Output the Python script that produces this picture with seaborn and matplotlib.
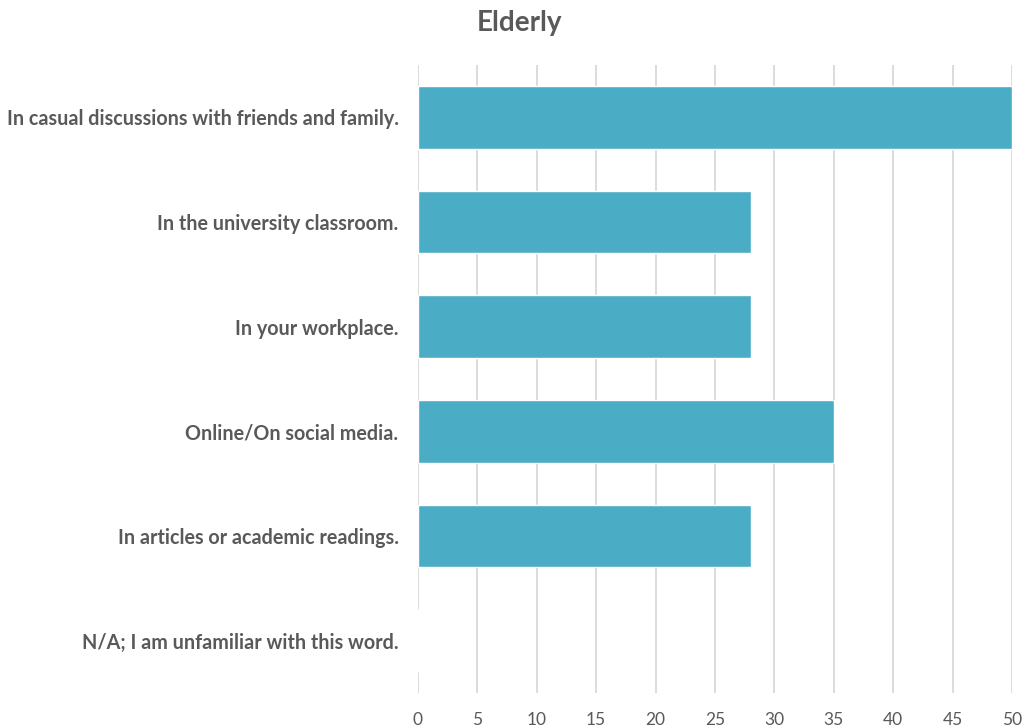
import matplotlib
matplotlib.use("Agg")
import matplotlib.pyplot as plt
import seaborn as sns
import pandas as pd

categories = [
    "In casual discussions with friends and family.",
    "In the university classroom.",
    "In your workplace.",
    "Online/On social media.",
    "In articles or academic readings.",
    "N/A; I am unfamiliar with this word.",
]
counts = [50, 28, 28, 35, 28, 0]
x_ticks = [0, 5, 10, 15, 20, 25, 30, 35, 40, 45, 50]

sns.set_theme(style="white")
plt.rcParams["font.family"] = ["Lato", "DejaVu Sans"]

text_color = "#595959"
bar_color = "#4BACC6"
grid_color = "#D9D9D9"

df = pd.DataFrame({"place": categories, "count": counts})

fig = plt.figure(figsize=(10.28, 7.27), dpi=100)
ax = fig.add_axes([0.4066, 0.0468, 0.5778, 0.8638])

sns.barplot(data=df, y="place", x="count", order=categories, color=bar_color,
            saturation=1, width=0.6, ax=ax, zorder=3)

ax.set_xlim(0, 50)
ax.set_ylim(5.5, -0.5)
ax.set_xticks(x_ticks)
ax.set_xticklabels([str(t) for t in x_ticks])
ax.xaxis.grid(True, color=grid_color, linewidth=1.3, zorder=0)
ax.set_axisbelow(True)
for s in ax.spines.values():
    s.set_visible(False)
ax.set_xlabel("")
ax.set_ylabel("")
ax.tick_params(axis="both", length=0)
ax.tick_params(axis="x", labelsize=12.5, labelcolor=text_color, pad=14)
ax.tick_params(axis="y", labelsize=14.2, labelcolor=text_color, pad=14)
for lbl in ax.get_yticklabels():
    lbl.set_fontweight("bold")

fig.text(0.505, 0.968, "Elderly", ha="center", va="center", fontsize=20,
         fontweight="bold", color=text_color)

fig.savefig("out.png", dpi=100)
